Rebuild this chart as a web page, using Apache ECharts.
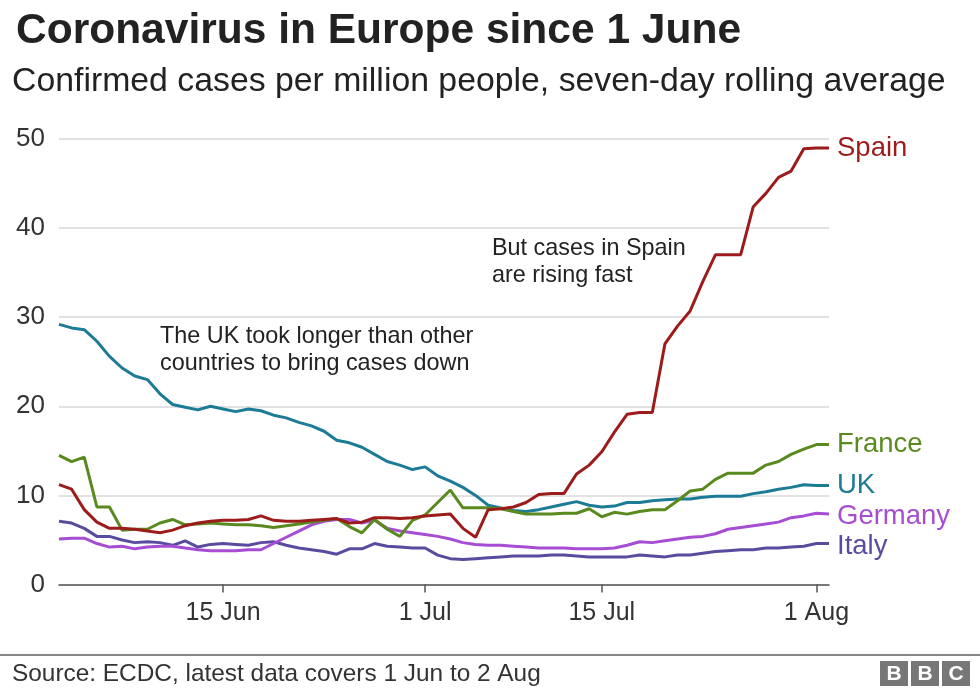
<!DOCTYPE html>
<html>
<head>
<meta charset="utf-8">
<script src="https://cdn.jsdelivr.net/npm/echarts@6/dist/echarts.min.js"></script>
<style>
html,body{margin:0;padding:0;background:#fff;}
#chart{width:980px;height:688px;}
</style>
</head>
<body>
<div id="chart"></div>
<script>
const dates = [
 "2 Jun","3 Jun","4 Jun","5 Jun","6 Jun","7 Jun","8 Jun","9 Jun","10 Jun","11 Jun",
 "12 Jun","13 Jun","14 Jun","15 Jun","16 Jun","17 Jun","18 Jun","19 Jun","20 Jun","21 Jun",
 "22 Jun","23 Jun","24 Jun","25 Jun","26 Jun","27 Jun","28 Jun","29 Jun","30 Jun","1 Jul",
 "2 Jul","3 Jul","4 Jul","5 Jul","6 Jul","7 Jul","8 Jul","9 Jul","10 Jul","11 Jul",
 "12 Jul","13 Jul","14 Jul","15 Jul","16 Jul","17 Jul","18 Jul","19 Jul","20 Jul","21 Jul",
 "22 Jul","23 Jul","24 Jul","25 Jul","26 Jul","27 Jul","28 Jul","29 Jul","30 Jul","31 Jul",
 "1 Aug","2 Aug"
];
const tickLabels = ["15 Jun","1 Jul","15 Jul","1 Aug"];
const yTicks = [0,10,20,30,40,50];

const spain = [
 11.2,10.7,8.4,7.0,6.3,6.3,6.2,6.0,5.8,6.1,
 6.6,6.9,7.1,7.2,7.2,7.3,7.7,7.2,7.1,7.1,
 7.2,7.3,7.4,6.9,7.0,7.5,7.5,7.4,7.5,7.7,
 7.8,7.9,6.3,5.3,8.4,8.5,8.7,9.2,10.1,10.2,
 10.2,12.4,13.4,14.9,17.1,19.1,19.3,19.3,27.0,29.0,
 30.7,34.0,37.0,37.0,37.0,42.4,43.9,45.7,46.4,48.9,
 49.0,49.0
];
const france = [
 14.5,13.8,14.3,8.7,8.7,6.1,6.2,6.2,6.9,7.3,
 6.7,6.8,6.9,6.8,6.7,6.7,6.6,6.4,6.6,6.8,
 7.0,7.2,7.4,6.5,5.8,7.3,6.2,5.4,7.2,7.8,
 9.2,10.6,8.6,8.6,8.6,8.5,8.2,7.9,7.9,7.9,
 8.0,8.0,8.5,7.6,8.1,7.9,8.2,8.4,8.4,9.4,
 10.5,10.7,11.8,12.5,12.5,12.5,13.4,13.8,14.6,15.2,
 15.7,15.7
];
const uk = [
 29.2,28.8,28.6,27.3,25.6,24.3,23.4,23.0,21.4,20.2,
 19.9,19.6,20.0,19.7,19.4,19.7,19.5,19.0,18.7,18.2,
 17.8,17.2,16.2,15.9,15.4,14.6,13.8,13.4,12.9,13.2,
 12.2,11.6,10.9,10.0,8.9,8.6,8.3,8.2,8.4,8.7,
 9.0,9.3,8.9,8.7,8.8,9.2,9.2,9.4,9.5,9.6,
 9.6,9.8,9.9,9.9,9.9,10.2,10.4,10.7,10.9,11.2,
 11.1,11.1
];
const germany = [
 5.1,5.2,5.2,4.6,4.2,4.3,4.0,4.2,4.3,4.3,
 4.1,3.9,3.8,3.8,3.8,3.9,3.9,4.6,5.3,6.0,
 6.7,7.1,7.3,7.3,6.9,7.2,6.3,6.0,5.8,5.6,
 5.4,5.1,4.7,4.5,4.4,4.4,4.3,4.2,4.1,4.1,
 4.1,4.0,4.0,4.0,4.1,4.4,4.8,4.7,4.9,5.1,
 5.3,5.4,5.7,6.2,6.4,6.6,6.8,7.0,7.5,7.7,
 8.0,7.9
];
const italy = [
 7.1,6.9,6.3,5.4,5.4,5.0,4.7,4.8,4.7,4.4,
 4.9,4.2,4.5,4.6,4.5,4.4,4.7,4.8,4.4,4.1,
 3.9,3.7,3.4,4.0,4.0,4.6,4.3,4.2,4.1,4.1,
 3.3,2.9,2.8,2.9,3.0,3.1,3.2,3.2,3.2,3.3,
 3.3,3.2,3.1,3.1,3.1,3.1,3.3,3.2,3.1,3.3,
 3.3,3.5,3.7,3.8,3.9,3.9,4.1,4.1,4.2,4.3,
 4.6,4.6
];

const FONT = '"Liberation Sans", Arial, Helvetica, sans-serif';
const chart = echarts.init(document.getElementById('chart'), null, {renderer:'canvas'});

function mk(name, data, color, offset) {
  return {
    name: name, type: 'line', data: data, symbol: 'none', smooth: false,
    lineStyle: {color: color, width: 3}, itemStyle: {color: color},
    endLabel: {show: true, formatter: '{a}', color: color, fontSize: 27.5,
      fontFamily: FONT, distance: 8, offset: offset || [0,0]},
    emphasis: {disabled: true}
  };
}

chart.setOption({
  animation: false,
  backgroundColor: '#fff',
  grid: {left: 59, top: 139, width: 770, height: 445.5, containLabel: false},
  xAxis: {
    type: 'category', data: dates, boundaryGap: false,
    axisLine: {lineStyle: {color: '#555', width: 1.5}},
    axisTick: {show: true, length: 8, lineStyle: {color: '#555', width: 1.5},
      interval: (i, v) => tickLabels.indexOf(v) >= 0},
    axisLabel: {interval: (i, v) => tickLabels.indexOf(v) >= 0,
      color: '#333', fontSize: 25, fontFamily: FONT, margin: 16},
    splitLine: {show: false}
  },
  yAxis: {
    type: 'value', min: yTicks[0], max: yTicks[yTicks.length-1], interval: 10,
    axisLine: {show: false}, axisTick: {show: false},
    axisLabel: {color: '#333', fontSize: 26, fontFamily: FONT, margin: 14},
    splitLine: {lineStyle: {color: '#d8d8d8', width: 1.5}}
  },
  series: [
    mk('Italy', italy, '#5b4b9f', [0,3]),
    mk('Germany', germany, '#a64dd4', [0,2]),
    mk('UK', uk, '#1c7b95'),
    mk('France', france, '#5a8a1f'),
    mk('Spain', spain, '#9c1c1c', [0,1])
  ],
  graphic: [
    {type:'text', left: 16, top: 10, style:{text:'Coronavirus in Europe since 1 June', fontSize: 42.5, fontWeight:'bold', fontFamily: FONT, fill:'#222'}},
    {type:'text', left: 12, top: 65, style:{text:'Confirmed cases per million people, seven-day rolling average', fontSize: 33.8, fontFamily: FONT, fill:'#222'}},
    {type:'text', left: 160, top: 323, style:{text:'The UK took longer than other\ncountries to bring cases down', fontSize: 23.4, lineHeight: 27, fontFamily: FONT, fill:'#222'}},
    {type:'text', left: 492, top: 235, style:{text:'But cases in Spain\nare rising fast', fontSize: 23.4, lineHeight: 27, fontFamily: FONT, fill:'#222'}},
    {type:'line', shape:{x1:0, y1:655, x2:980, y2:655}, style:{stroke:'#888', lineWidth:2}},
    {type:'text', left: 12, top: 662, style:{text:'Source: ECDC, latest data covers 1 Jun to 2 Aug', fontSize: 24.4, fontFamily: FONT, fill:'#333'}},
    {type:'rect', shape:{x:880, y:661, width:28, height:25}, style:{fill:'#777'}},
    {type:'rect', shape:{x:911, y:661, width:28, height:25}, style:{fill:'#777'}},
    {type:'rect', shape:{x:942, y:661, width:28, height:25}, style:{fill:'#777'}},
    {type:'text', x: 894, y: 674, style:{text:'B', fontSize: 21, fontWeight:'bold', fontFamily: FONT, fill:'#fff', align:'center', verticalAlign:'middle'}},
    {type:'text', x: 925, y: 674, style:{text:'B', fontSize: 21, fontWeight:'bold', fontFamily: FONT, fill:'#fff', align:'center', verticalAlign:'middle'}},
    {type:'text', x: 956, y: 674, style:{text:'C', fontSize: 21, fontWeight:'bold', fontFamily: FONT, fill:'#fff', align:'center', verticalAlign:'middle'}}
  ]
});
</script>
</body>
</html>
